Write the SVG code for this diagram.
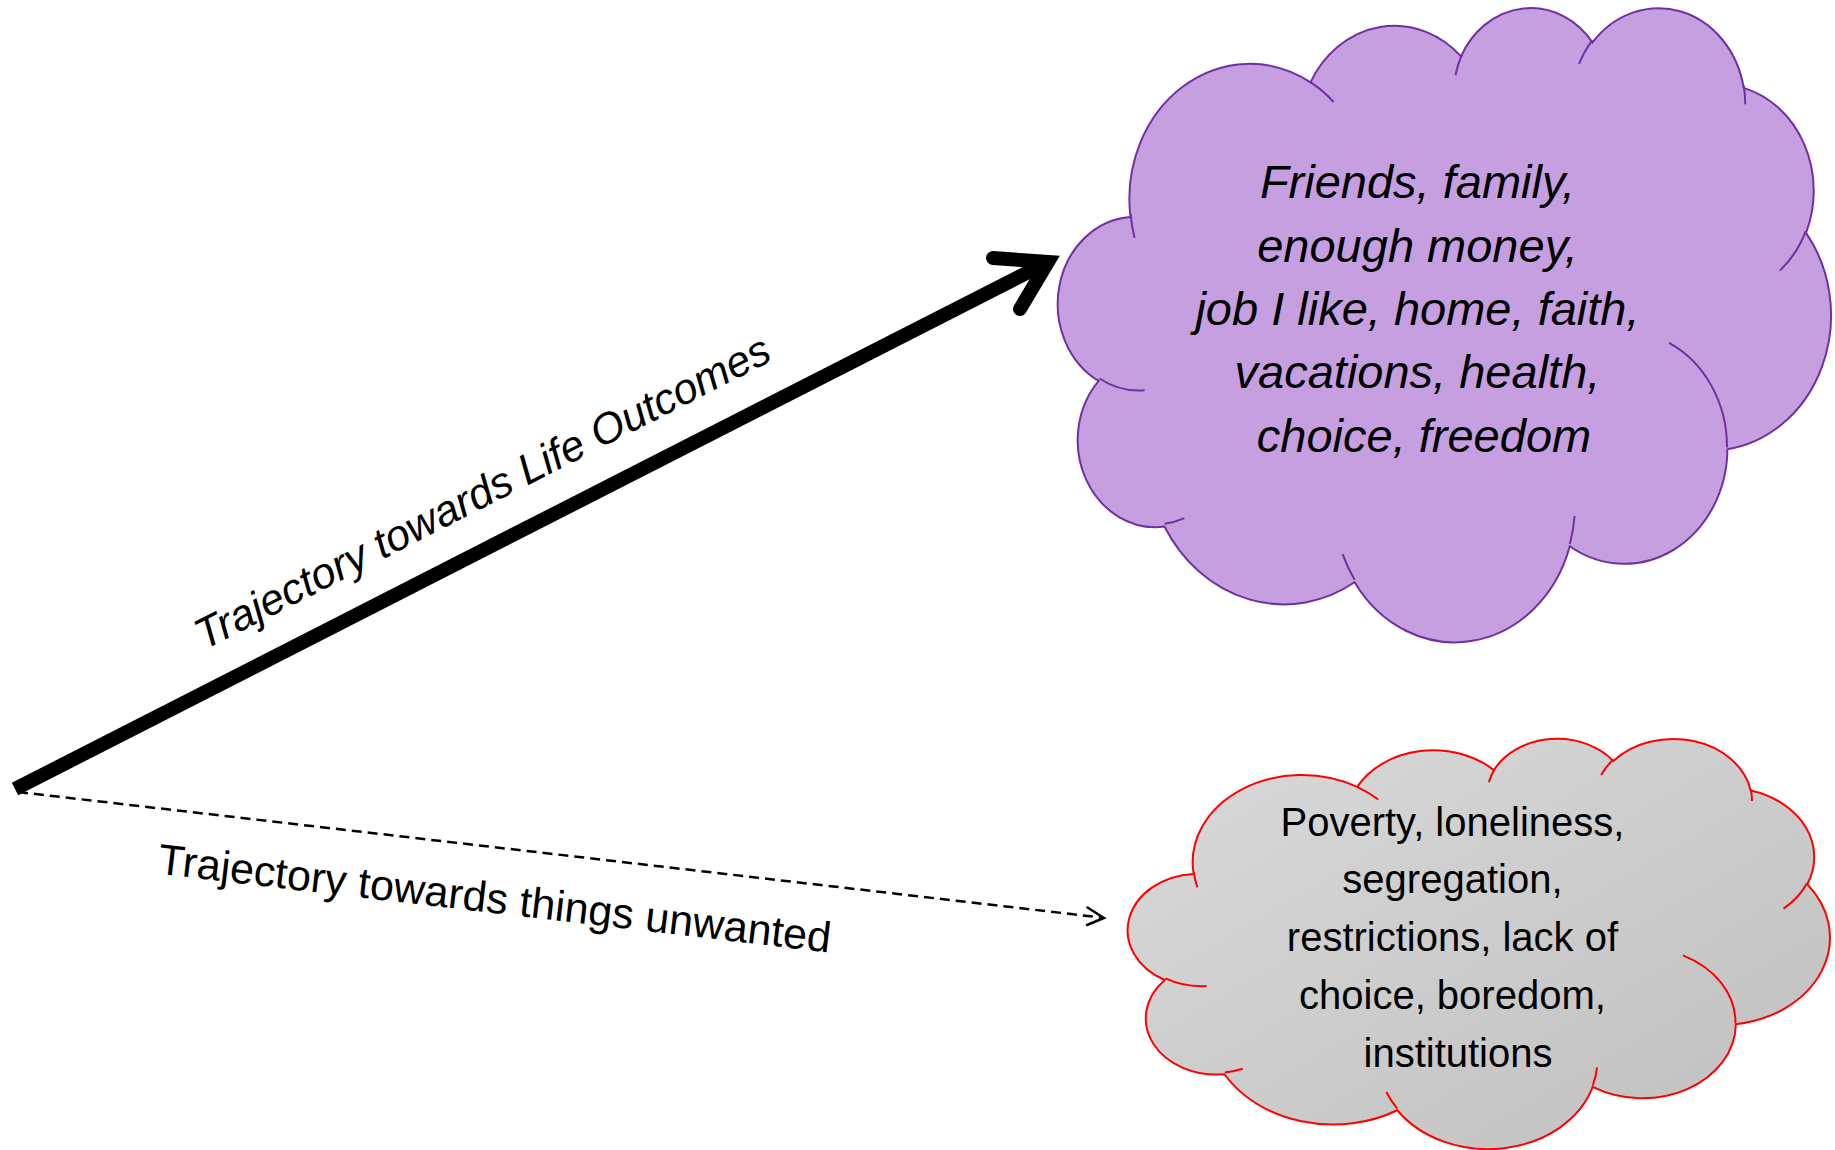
<svg xmlns="http://www.w3.org/2000/svg" width="1835" height="1150" viewBox="0 0 1835 1150">
  <defs>
    <!-- cloud outline in a 43200 x 43200 unit box -->
    <path id="cloud-body" vector-effect="non-scaling-stroke" d="M3900,14370 A6753,9190 0 0 1 14005,5202 A5333,7267 0 0 1 22456,3433 A4365,5945 0 0 1 29833,2481 A4857,6595 0 0 1 38318,5577 A5333,7273 0 0 1 41819,15460 A6775,9220 0 0 1 37405,30204 A5785,7867 0 0 1 28556,36814 A6752,9215 0 0 1 16481,39265 A7720,10543 0 0 1 5805,35470 A4360,5918 0 0 1 2114,25549 A4345,5945 0 0 1 3900,14370 Z"/>
    <!-- short inner arcs where the puffs overlap -->
    <path id="cloud-folds" vector-effect="non-scaling-stroke" fill="none" d="M4693,26177 A4345,5945 0 0 1 2160,25380 M6928,34899 A4360,5918 0 0 1 5820,35280 M16478,39090 A6752,9215 0 0 1 15810,37350 M28827,34751 A6752,9215 0 0 1 28560,36660 M34129,22954 A5785,7867 0 0 1 37380,30090 M41798,15354 A5333,7273 0 0 1 40350,18030 M38324,5426 A4857,6595 0 0 1 38400,6690 M29078,3952 A4857,6595 0 0 1 29820,2341 M22141,4720 A4365,5945 0 0 1 22500,3330 M14000,5192 A6753,9190 0 0 1 15300,6540 M4127,15789 A6753,9190 0 0 1 3906,14173"/>
    <linearGradient id="grey-fill" x1="0" y1="0" x2="1" y2="1">
      <stop offset="0" stop-color="#dadada"/>
      <stop offset="1" stop-color="#bfbfbf"/>
    </linearGradient>
  </defs>
  <style>
    .puff { stroke-width: 2; }
    .fold { fill: none; stroke-width: 2; }
    .good .puff { fill: #c59fe0; stroke: #7030a0; }
    .good .fold { stroke: #7030a0; }
    .bad .puff { fill: url(#grey-fill); stroke: #ff0000; }
    .bad .fold { stroke: #ff0000; }
    .txt { font-family: "Liberation Sans", Arial, sans-serif; fill: #000; text-anchor: middle; }
    .good-txt { font-size: 47px; font-style: italic; }
    .bad-txt { font-size: 40px; }
    .label { font-family: "Liberation Sans", Arial, sans-serif; font-size: 43px; fill: #000; text-anchor: middle; }
  </style>

  <rect width="1835" height="1150" fill="#ffffff"/>

  <!-- connectors -->
  <g id="connectors">
    <g id="to-outcomes">
      <line x1="15" y1="789" x2="1046" y2="263" stroke="#000" stroke-width="14" stroke-linecap="butt"/>
      <polyline points="993,258 1048,262 1020,309" fill="none" stroke="#000" stroke-width="14" stroke-linejoin="miter" stroke-linecap="round"/>
      <text class="label" font-style="italic" transform="translate(489,505) rotate(-27.03)">Trajectory towards Life Outcomes</text>
    </g>
    <g id="to-unwanted">
      <line x1="18" y1="792" x2="1101" y2="917.5" stroke="#000" stroke-width="2.5" stroke-dasharray="10 6"/>
      <polyline points="1087.5,907.5 1104,918 1087,925" fill="none" stroke="#000" stroke-width="2.5" stroke-linejoin="miter" stroke-linecap="round"/>
      <text class="label" transform="translate(493,913) rotate(6.7)">Trajectory towards things unwanted</text>
    </g>
  </g>

  <!-- life outcomes cloud -->
  <g id="node-outcomes" class="good">
    <g transform="translate(1061,6) scale(0.017816,0.014676)">
      <use href="#cloud-body" class="puff"/>
      <use href="#cloud-folds" class="fold"/>
    </g>
    <text class="txt good-txt">
      <tspan x="1424" y="198">Friends, family,</tspan>
      <tspan x="1424" y="262">enough money,</tspan>
      <tspan x="1424" y="325">job I like, home, faith,</tspan>
      <tspan x="1424" y="388">vacations, health,</tspan>
      <tspan x="1424" y="452">choice, freedom</tspan>
    </text>
  </g>

  <!-- unwanted things cloud -->
  <g id="node-unwanted" class="bad">
    <g transform="translate(1130.6,737.5) scale(0.016181,0.009493)">
      <use href="#cloud-body" class="puff"/>
      <use href="#cloud-folds" class="fold"/>
    </g>
    <text class="txt bad-txt">
      <tspan x="1458" y="836">Poverty, loneliness,</tspan>
      <tspan x="1458" y="893">segregation,</tspan>
      <tspan x="1458" y="951">restrictions, lack of</tspan>
      <tspan x="1458" y="1009">choice, boredom,</tspan>
      <tspan x="1458" y="1067">institutions</tspan>
    </text>
  </g>
</svg>
